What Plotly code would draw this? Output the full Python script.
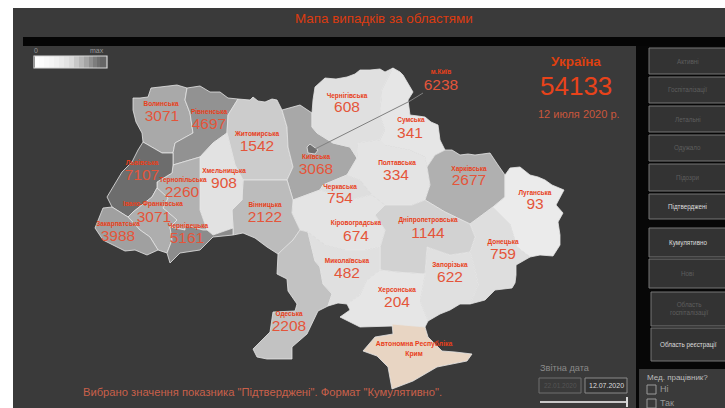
import plotly.graph_objects as go

# ---- data ----
NAMES = ["Волинська","Рівненська","Житомирська","Львівська","Тернопільська","Хмельницька",
         "Івано-Франківська","Закарпатська","Чернівецька","Вінницька","Київська","Черкаська",
         "Чернігівська","Сумська","Полтавська","Харківська","Луганська","Дніпропетровська",
         "Кіровоградська","Миколаївська","Донецька","Запорізька","Херсонська","Одеська","м.Київ"]
VALUES = [3071,4697,1542,7107,2260,908,3071,3988,5161,2122,3068,754,608,341,334,2677,93,1144,674,482,759,622,204,2208,6238]
TOTAL = 54133
BUTTONS = ["Активні","Госпіталізації","Летальні","Одужало","Підозри","Підтверджені","Кумулятивно","Нові",
           "Область<br>госпіталізації","Область реєстрації"]

# region outlines: (x, y) along the boundary
VOLYN = [(133,98),(140,98),(148,97),(151,88),(160,87),(170,86),(177,85),(187,88),(185,100),(190,113),(193,133),(175,143),(173,153),(162,153),(143,142),(142,133),(136,122),(133,110)]
RIVNE = [(187,88),(200,86),(210,92),(220,92),(228,98),(238,99),(228,115),(227,133),(213,143),(200,157),(173,165),(173,153),(175,143),(193,133),(190,113),(185,100)]
ZHYTOMYR = [(238,99),(250,100),(253,97),(258,101),(265,102),(272,99),(277,100),(282,110),(287,127),(288,147),(293,167),(287,180),(280,180),(260,180),(243,180),(235,165),(227,133),(228,115)]
KYIV_OBL = [(282,110),(300,105),(312,113),(312,127),(317,133),(333,143),(350,147),(357,158),(347,175),(323,185),(320,190),(293,200),(287,180),(293,167),(288,147),(287,127)]
KYIV_CITY = [(307,147),(310,144),(318,150),(315,154),(308,153)]
CHERNIHIV = [(312,113),(313,100),(315,87),(320,82),(325,78),(336,79),(347,77),(355,74),(360,70),(370,70),(380,69),(385,72),(393,68),(382,90),(380,115),(385,130),(380,140),(358,143),(357,158),(350,147),(333,143),(317,133),(312,127)]
SUMY = [(393,68),(400,72),(403,75),(408,84),(413,92),(408,100),(410,115),(418,116),(425,117),(431,122),(438,125),(440,140),(445,150),(435,155),(427,167),(425,157),(410,150),(385,145),(380,140),(385,130),(380,115),(382,90)]
POLTAVA = [(357,158),(358,143),(380,140),(385,145),(410,150),(425,157),(427,167),(430,185),(425,200),(412,205),(385,205),(372,195),(360,180),(347,175)]
KHARKIV = [(427,167),(435,155),(445,150),(452,150),(460,155),(468,154),(475,155),(490,153),(498,165),(505,175),(505,197),(493,207),(470,224),(445,212),(425,200),(430,185)]
LUHANSK = [(505,175),(510,168),(520,167),(526,172),(530,175),(538,177),(545,180),(552,185),(564,190),(556,205),(563,213),(558,222),(560,235),(560,245),(553,256),(540,255),(530,257),(517,247),(510,224),(493,207),(505,197)]
DONETSK = [(470,224),(493,207),(510,224),(517,247),(530,257),(516,265),(516,275),(515,283),(512,288),(495,290),(485,300),(470,304),(478,285),(475,270),(470,252),(475,237)]
ZAPORIZHIA = [(427,247),(450,255),(470,252),(475,270),(478,285),(470,304),(460,304),(450,310),(440,314),(428,321),(420,301),(425,274)]
DNIPRO = [(385,205),(412,205),(425,200),(445,212),(470,224),(475,237),(470,252),(450,255),(427,247),(425,274),(395,272),(380,270),(380,247),(385,230),(375,215)]
CHERKASY = [(320,190),(323,185),(347,175),(360,180),(372,195),(350,200),(333,195)]
KIROVOHRAD = [(293,200),(320,190),(333,195),(350,200),(372,195),(385,205),(375,215),(385,230),(380,247),(365,250),(345,250),(325,245),(308,232),(300,230),(292,213)]
VINNYTSIA = [(243,180),(260,180),(280,180),(287,180),(293,200),(292,213),(300,230),(293,240),(278,254),(267,247),(255,238),(243,233),(233,235),(233,228),(232,210),(242,200)]
KHMELNYTSKY = [(213,143),(227,133),(235,165),(243,180),(242,200),(232,210),(233,228),(213,235),(207,230),(200,210),(200,157)]
TERNOPIL = [(173,165),(200,157),(200,210),(207,230),(203,230),(185,225),(185,230),(170,227),(177,220),(163,208),(168,198),(157,188),(157,182),(172,173)]
LVIV = [(138,150),(143,142),(162,153),(173,153),(173,165),(172,173),(157,182),(157,188),(152,197),(133,212),(128,217),(112,207),(107,197),(122,172),(132,162)]
FRANKIVSK = [(128,217),(133,212),(152,197),(157,188),(168,198),(163,208),(177,220),(170,227),(172,240),(167,253),(158,250),(150,237),(140,230)]
ZAKARPATTIA = [(95,228),(103,208),(112,207),(128,217),(140,230),(150,237),(158,250),(147,255),(135,250),(125,251),(117,247),(103,240)]
CHERNIVTSI = [(170,227),(185,230),(185,225),(203,230),(207,230),(213,235),(233,228),(233,235),(213,237),(200,250),(180,253),(170,263),(167,253),(172,240)]
ODESA = [(300,230),(308,232),(315,261),(320,267),(323,284),(332,294),(328,306),(318,311),(307,334),(292,347),(292,359),(267,359),(257,357),(253,349),(270,332),(273,312),(295,311),(297,304),(288,291),(287,279),(277,274),(278,254),(293,240)]
MYKOLAIV = [(308,232),(325,245),(345,250),(365,250),(380,247),(380,270),(367,280),(360,295),(347,304),(338,303),(328,306),(332,294),(323,284),(320,267),(315,261)]
KHERSON = [(347,304),(360,295),(367,280),(380,270),(395,272),(425,274),(420,301),(428,321),(425,327),(393,326),(360,327),(340,317),(350,310)]
CRIMEA = [(392,324),(425,327),(428,337),(442,351),(455,352),(472,354),(467,361),(453,364),(437,367),(413,381),(392,389),(388,367),(377,356),(363,351),(375,337),(393,334)]

REGIONS = [
    (VOLYN,"#a9a9a9"),(RIVNE,"#929292"),(ZHYTOMYR,"#cccccc"),(KYIV_OBL,"#a8a8a8"),(CHERNIHIV,"#e0e0e0"),
    (SUMY,"#e6e6e6"),(POLTAVA,"#e4e4e4"),(KHARKIV,"#b0b0b0"),(LUHANSK,"#ebebeb"),(DONETSK,"#dedede"),
    (ZAPORIZHIA,"#e0e0e0"),(DNIPRO,"#d2d2d2"),(CHERKASY,"#dedede"),(KIROVOHRAD,"#e4e4e4"),(VINNYTSIA,"#bcbcbc"),
    (KHMELNYTSKY,"#e2e2e2"),(TERNOPIL,"#b2b2b2"),(LVIV,"#6d6d6d"),(FRANKIVSK,"#aeaeae"),(ZAKARPATTIA,"#a0a0a0"),
    (CHERNIVTSI,"#8c8c8c"),(ODESA,"#c2c2c2"),(MYKOLAIV,"#e0e0e0"),(KHERSON,"#e6e6e6"),(CRIMEA,"#e8d5c3"),
    (KYIV_CITY,"#6e6e6e"),
]
LEADER = [(315,149),(410,101),(423,93)]

NAME_X = [161,209,257,142,183,224,153,118,188,265,316,340,347,411,397,469,535,428,356,347,503,450,397,289,441]
NAME_Y = [104,112,134,163,180,171,204,224,226,205,157,187,96,120,163,169,193,220,223,261,242,265,290,314,72]
VAL_X =  [162,209,257,142,182,224,154,118,187,265,316,340,347,410,396,469,535,428,356,347,503,450,397,289,441]
VAL_Y =  [117,125,147,176,193,184,218,237,239,218,170,199,108,134,176,181,205,234,237,274,255,278,303,327,86]

fig = go.Figure()

# gradient legend
LEGEND_Z = [[0,4,8,12,18,25,33,42,52,62,72,82,90,96,100,100]]
LEGEND_X = [35,39,44,49,54,59,64,69,74,79,84,89,93,97,100,103,107]
fig.add_trace(go.Heatmap(z=LEGEND_Z, x=LEGEND_X, y=[56,68], showscale=False, hoverinfo="skip",
                         colorscale=[[0,"#ffffff"],[0.4,"#dddddd"],[0.75,"#a0a0a0"],[1,"#666666"]]))

for pts, col in REGIONS:
    fig.add_trace(go.Scatter(x=[p[0] for p in pts]+[pts[0][0]], y=[p[1] for p in pts]+[pts[0][1]],
                             mode="lines", fill="toself", fillcolor=col, line=dict(color="#e6e6e6", width=0.8),
                             hoverinfo="skip", showlegend=False))
fig.add_trace(go.Scatter(x=[p[0] for p in LEADER], y=[p[1] for p in LEADER], mode="lines",
                         line=dict(color="#808080", width=1), hoverinfo="skip"))
fig.add_trace(go.Scatter(x=NAME_X, y=NAME_Y, mode="text", text=NAMES, hoverinfo="skip",
                         textfont=dict(family="Liberation Sans", size=6.5, color="#e8401a", weight="bold")))
fig.add_trace(go.Scatter(x=VAL_X, y=VAL_Y, mode="text", text=[str(v) for v in VALUES], hoverinfo="skip",
                         textfont=dict(family="Liberation Sans", size=15.5, color="#e4553a")))
fig.add_trace(go.Scatter(x=[414,414], y=[344,354], mode="text", text=["Автономна Республіка","Крим"], hoverinfo="skip",
                         textfont=dict(family="Liberation Sans", size=6.8, color="#e8401a", weight="bold")))

shapes = []
def rect(x0,y0,x1,y1,fill=None,line=None,w=1,layer="below"):
    shapes.append(dict(type="rect",xref="x",yref="y",x0=x0,y0=y0,x1=x1,y1=y1,layer=layer,
                       fillcolor=fill or "rgba(0,0,0,0)",line=dict(color=line or "rgba(0,0,0,0)",width=w if line else 0)))

rect(13,8,725,408,"#3a3a3a")
rect(23,37,725,46,"#050505")
rect(636,46,725,408,"#070707")
BTN_Y = [(48,74),(77,103),(106,132),(135,161),(164,191),(194,219),(228,257),(259,288),(292,326),(328,361)]
BTN_X0 = [649,649,649,649,649,649,649,649,651,651]
BTN_COL = ["#5e5e5e"]*5+["#dddddd","#dddddd","#5e5e5e","#5e5e5e","#dddddd"]
for (y0,y1),x0 in zip(BTN_Y,BTN_X0):
    rect(x0,y0,727,y1,"#333333","#777777",1)
rect(639,369,727,410,"#3a3a3a")
rect(34,56,107,68,None,"#d8d8d8",1.2,"above")
rect(539,378,581,393,None,"#6e6e6e",1)
rect(585,378,627,393,"#333333","#8a8a8a",1)
rect(647,385,656,394,None,"#999999",1)
rect(647,399,656,408,None,"#999999",1)
rect(540,401,626,403,"#c8c8c8")
rect(626,397,628,407,"#d8d8d8")

def note(x,y,t,size,col,anchor="center",bold=False):
    fig.add_annotation(x=x,y=y,text=("<b>%s</b>"%t if bold else t),showarrow=False,xanchor=anchor,yanchor="middle",
                       font=dict(family="Liberation Sans",size=size,color=col),xref="x",yref="y")

note(384,18,"Мапа випадків за областями",13.4,"#dd3a10")
note(36,50,"0",7,"#999999","center")
note(97,50,"max",7,"#999999","center")
note(576,61,"Україна",13.5,"#dd4010",bold=True)
note(576,86,str(TOTAL),26,"#e8431a")
note(578.5,114,"12 июля 2020 р.",11,"#c9573c")
note(262.5,392,'Вибрано значення показника "Підтверджені". Формат "Кумулятивно".',11.2,"#c9604a")
note(538,368,"Звітна дата",9.2,"#8a8a8a","left")
note(560,385.5,"22.01.2020",6.5,"#555555")
note(606,385.5,"12.07.2020",7,"#dddddd")
note(645,377,"Мед. працівник?",8,"#bbbbbb","left")
note(658,389,"Ні",9,"#999999","left")
note(658,403,"Так",9,"#999999","left")
for t,(y0,y1),x0,c in zip(BUTTONS,BTN_Y,BTN_X0,BTN_COL):
    note((x0+725)/2+0.5,(y0+y1)/2,t,6.3,c)

fig.update_layout(width=725,height=408,autosize=False,margin=dict(l=0,r=0,t=0,b=0),
                  paper_bgcolor="#ffffff",plot_bgcolor="#ffffff",showlegend=False,shapes=shapes,
                  xaxis=dict(range=[0,725],visible=False,fixedrange=True),
                  yaxis=dict(range=[408,0],visible=False,fixedrange=True))
fig.write_html("out.html",config=dict(displayModeBar=False),
               post_script="document.body.style.margin='0';document.body.style.overflow='hidden';")
